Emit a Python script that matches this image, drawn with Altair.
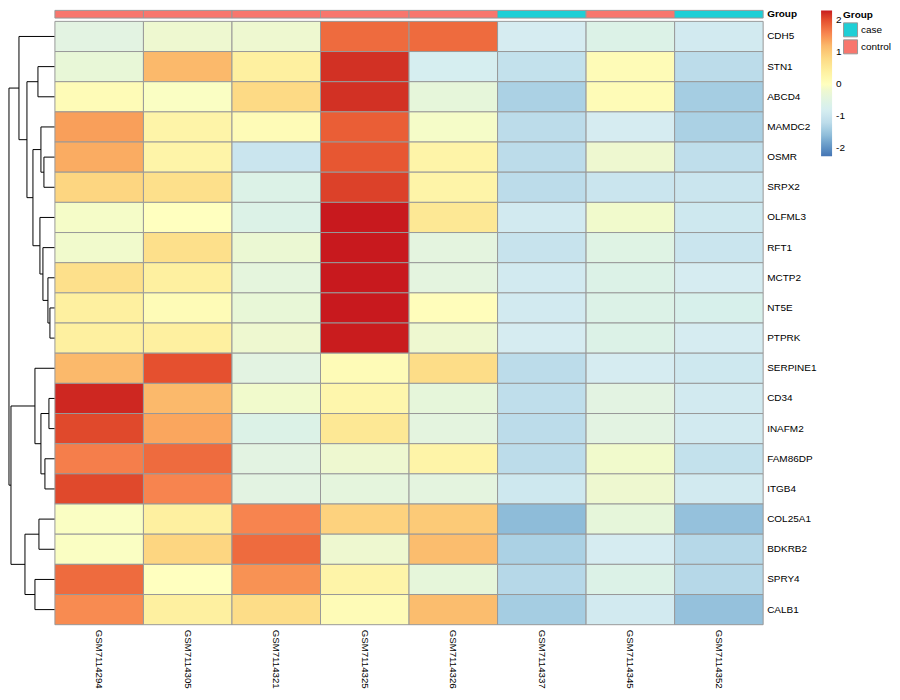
import altair as alt
import pandas as pd

# ---------------- data ----------------
genes = ["CDH5", "STN1", "ABCD4", "MAMDC2", "OSMR", "SRPX2", "OLFML3", "RFT1",
         "MCTP2", "NT5E", "PTPRK", "SERPINE1", "CD34", "INAFM2", "FAM86DP",
         "ITGB4", "COL25A1", "BDKRB2", "SPRY4", "CALB1"]
samples = ["GSM7114294", "GSM7114305", "GSM7114321", "GSM7114325",
           "GSM7114326", "GSM7114337", "GSM7114345", "GSM7114352"]
groups = ["control", "control", "control", "control", "control", "case", "control", "case"]

# scaled expression per sample (rows in the order of `genes`)
s294 = [-0.5, -0.3, 0.1, 1.4, 1.3, 0.85, -0.1, -0.15, 0.7, 0.4, 0.4, 1.2, 2.25, 2.05, 1.65, 2.05, -0.05, -0.05, 1.8, 1.55]
s305 = [-0.2, 1.2, -0.05, 0.3, 0.3, 0.7, 0.0, 0.7, 0.4, 0.1, 0.4, 2.0, 1.2, 1.35, 1.8, 1.6, 0.4, 0.85, 0.0, 0.4]
s321 = [-0.2, 0.4, 0.8, 0.1, -1.0, -0.6, -0.6, -0.25, -0.4, -0.3, -0.2, -0.5, -0.15, -0.6, -0.5, -0.5, 1.6, 1.8, 1.5, 0.75]
s325 = [1.8, 2.2, 2.2, 1.9, 1.95, 2.1, 2.35, 2.35, 2.35, 2.35, 2.3, 0.1, 0.25, 0.55, -0.2, -0.4, 0.9, -0.2, 0.3, 0.1]
s326 = [1.8, -0.8, -0.35, -0.1, 0.3, 0.3, 0.55, -0.45, -0.45, 0.05, -0.2, 0.75, -0.35, -0.45, 0.3, -0.45, 1.0, 1.15, -0.35, 1.15]
s337 = [-0.85, -1.1, -1.35, -1.2, -1.2, -1.2, -0.9, -1.05, -0.9, -0.9, -0.85, -1.2, -1.15, -1.2, -1.2, -0.95, -1.6, -1.35, -1.25, -1.4]
s345 = [-0.6, 0.1, 0.1, -0.85, -0.2, -1.0, -0.15, -0.55, -0.6, -0.6, -0.6, -0.85, -0.5, -0.5, -0.15, -0.2, -0.35, -0.85, -0.6, -0.9]
s352 = [-0.9, -1.2, -1.4, -1.35, -1.15, -1.0, -0.95, -1.0, -0.85, -0.7, -0.85, -0.95, -0.9, -0.9, -1.1, -0.9, -1.55, -1.25, -1.25, -1.55]
columns = [s294, s305, s321, s325, s326, s337, s345, s352]

# row dendrogram: (left, right, height); strings are leaves, ints refer to earlier merges (1-based)
merges = [
    ("NT5E", "PTPRK", 5),      # 1
    ("MCTP2", 1, 7),           # 2
    ("RFT1", 2, 12),           # 3
    ("OLFML3", 3, 15),         # 4
    ("OSMR", "SRPX2", 11),     # 5
    ("MAMDC2", 5, 14),         # 6
    (6, 4, 22),                # 7
    ("STN1", "ABCD4", 17),     # 8
    (8, 7, 28),                # 9
    ("CDH5", 9, 36),           # 10
    ("CD34", "INAFM2", 6),     # 11
    ("FAM86DP", "ITGB4", 10),  # 12
    (11, 12, 14),              # 13
    ("SERPINE1", 13, 20),      # 14
    ("COL25A1", "BDKRB2", 16), # 15
    ("SPRY4", "CALB1", 20),    # 16
    (15, 16, 30),              # 17
    (14, 17, 44),              # 18
    (10, 18, 46),              # 19
]

color_stops = [-2.25, -1.55, -1.2, -0.85, -0.5, -0.2, 0.0, 0.4, 0.8, 1.2, 1.6, 2.0, 2.31]
color_range = ["#4575B4", "#95C1DC", "#BCDCEA", "#D6ECF1", "#E3F3E2", "#EEF8D0", "#FFFFBF",
               "#FEF0A0", "#FDDA85", "#FBB96B", "#F7844F", "#E5502F", "#C8191E"]
legend_values = [-2, -1, 0, 1, 2]
group_domain = ["case", "control"]
group_colors = ["#1ECFD6", "#F8766D"]

# ---------------- tables ----------------
n_rows = len(genes)
n_cols = len(samples)
ROW_PX = 30.2
ANN_TOP, ANN_BOT = -11 / ROW_PX, -3.3 / ROW_PX

cells = []
for j, (s, col) in enumerate(zip(samples, columns)):
    for i, (g, v) in enumerate(zip(genes, col)):
        cells.append(dict(gene=g, sample=s, value=v, x=j, x2=j + 1, y=i, y2=i + 1))
cells = pd.DataFrame(cells)

ann = pd.DataFrame(dict(sample=samples, Group=groups,
                        x=list(range(n_cols)), x2=[k + 1 for k in range(n_cols)],
                        xc=[k + 0.5 for k in range(n_cols)],
                        ya=[ANN_TOP] * n_cols, yb=[ANN_BOT] * n_cols,
                        yl=[n_rows] * n_cols))
rows = pd.DataFrame(dict(gene=genes, yc=[i + 0.5 for i in range(n_rows)], xl=[n_cols] * n_rows))
glabel = pd.DataFrame(dict(t=["Group"], xl=[n_cols], yc=[(ANN_TOP + ANN_BOT) / 2]))

COL_PX = 88.63  # pixel width of one column, converts dendrogram height units
leaf_y = {g: i + 0.5 for i, g in enumerate(genes)}
node_y, node_h, segs = {}, {}, []


def info(c):
    if isinstance(c, str):
        return leaf_y[c], 0.0
    return node_y[c], node_h[c]


for k, (a, b, h) in enumerate(merges, start=1):
    ya, ha = info(a)
    yb, hb = info(b)
    segs.append(dict(x=-ha / COL_PX, x2=-h / COL_PX, y=ya, y2=ya))
    segs.append(dict(x=-hb / COL_PX, x2=-h / COL_PX, y=yb, y2=yb))
    segs.append(dict(x=-h / COL_PX, x2=-h / COL_PX, y=ya, y2=yb))
    node_y[k] = (ya + yb) / 2
    node_h[k] = h
segs = pd.DataFrame(segs)

# ---------------- scales ----------------
xs = alt.Scale(domain=[-0.53, n_cols], nice=False, zero=False)
ys = alt.Scale(domain=[ANN_TOP, n_rows], nice=False, zero=False, reverse=True)
FONT = "Liberation Sans"

heat = alt.Chart(cells).mark_rect(stroke="#999999", strokeWidth=1).encode(
    x=alt.X("x:Q", scale=xs, axis=None),
    x2="x2:Q",
    y=alt.Y("y:Q", scale=ys, axis=None),
    y2="y2:Q",
    color=alt.Color("value:Q",
                    scale=alt.Scale(domain=color_stops, range=color_range, clamp=True),
                    legend=alt.Legend(orient="none", legendX=814, legendY=0, title=None,
                                      gradientLength=146, gradientThickness=11,
                                      values=legend_values, labelFontSize=10, labelFont=FONT,
                                      labelExpr="datum.value + ''",
                                      labelOffset=4, padding=0, gradientStrokeWidth=0,
                                      direction="vertical", labelColor="#000000")),
)

annot = alt.Chart(ann).mark_rect(stroke="#999999", strokeWidth=1).encode(
    x=alt.X("x:Q", scale=xs, axis=None),
    x2="x2:Q",
    y=alt.Y("ya:Q", scale=ys, axis=None),
    y2="yb:Q",
    color=alt.Color("Group:N", scale=alt.Scale(domain=group_domain, range=group_colors),
                    legend=alt.Legend(orient="none", legendX=836, legendY=0, title="Group",
                                      titleFontSize=10, titleFont=FONT, titleFontWeight="bold",
                                      titlePadding=2, titleColor="#000000",
                                      symbolType="square", symbolSize=196,
                                      symbolStrokeColor="#999999", symbolStrokeWidth=1,
                                      labelFontSize=10, labelFont=FONT, labelColor="#000000",
                                      labelOffset=3, rowPadding=-3, padding=0)),
)

dendro = alt.Chart(segs).mark_rule(color="#000000", strokeWidth=1).encode(
    x=alt.X("x:Q", scale=xs, axis=None),
    x2="x2:Q",
    y=alt.Y("y:Q", scale=ys, axis=None),
    y2="y2:Q",
)

row_labels = alt.Chart(rows).mark_text(align="left", baseline="middle", dx=4,
                                       fontSize=10, font=FONT, color="#000000").encode(
    x=alt.X("xl:Q", scale=xs, axis=None),
    y=alt.Y("yc:Q", scale=ys, axis=None),
    text="gene:N",
)

col_labels = alt.Chart(ann).mark_text(align="left", baseline="middle", angle=90, dx=5,
                                      fontSize=9.7, font=FONT, color="#000000").encode(
    x=alt.X("xc:Q", scale=xs, axis=None),
    y=alt.Y("yl:Q", scale=ys, axis=None),
    text="sample:N",
)

group_label = alt.Chart(glabel).mark_text(
    align="left", baseline="middle", dx=4, fontSize=10, font=FONT,
    fontWeight="bold", color="#000000").encode(
    x=alt.X("xl:Q", scale=xs, axis=None),
    y=alt.Y("yc:Q", scale=ys, axis=None),
    text="t:N",
)

chart = alt.layer(dendro, heat, annot, row_labels, col_labels, group_label).resolve_scale(
    color="independent"
).properties(width=756, height=round(ROW_PX * (n_rows - ANN_TOP)), padding=0).configure_view(strokeWidth=0)

chart.save("out.html", embed_options={"renderer": "svg", "actions": False})
